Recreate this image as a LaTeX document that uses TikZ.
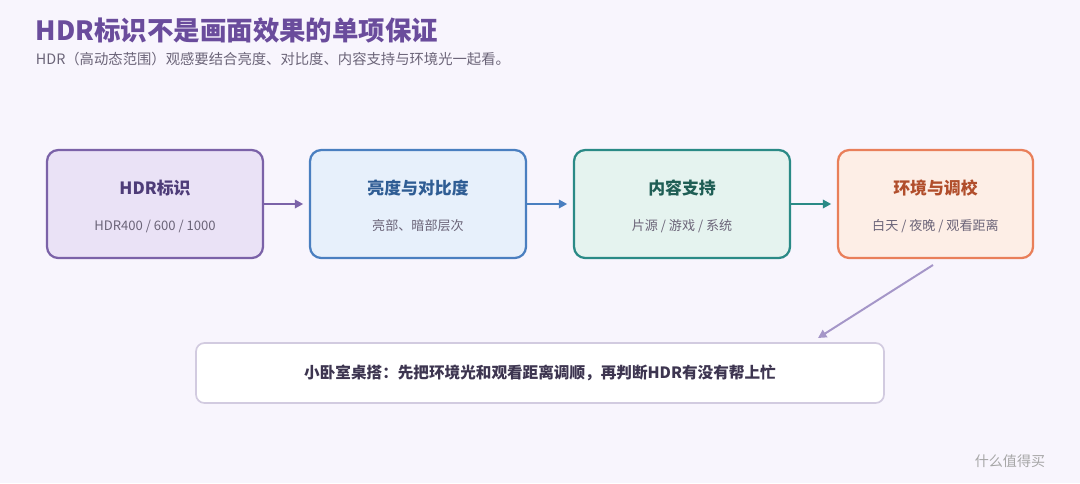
\documentclass[tikz,border=0pt]{standalone}
\usepackage{fontspec}
\setmainfont{Noto Sans CJK SC}
\usetikzlibrary{positioning,arrows.meta}
\definecolor{bgc}{HTML}{F8F5FD}
\definecolor{titlec}{HTML}{6A4C9C}
\definecolor{subc}{HTML}{6B6478}
\definecolor{purpD}{HTML}{7B62A8}\definecolor{purpF}{HTML}{EAE2F6}\definecolor{purpT}{HTML}{4E3C78}
\definecolor{blueD}{HTML}{4A7FC0}\definecolor{blueF}{HTML}{E7F0FB}\definecolor{blueT}{HTML}{2F5D94}
\definecolor{tealD}{HTML}{2A8A86}\definecolor{tealF}{HTML}{E5F3EF}\definecolor{tealT}{HTML}{1F5E55}
\definecolor{orngD}{HTML}{E97F5A}\definecolor{orngF}{HTML}{FDEEE6}\definecolor{orngT}{HTML}{B14E2C}
\definecolor{noteD}{HTML}{D2CBE0}\definecolor{noteT}{HTML}{3D3550}
\definecolor{linkc}{HTML}{A596C8}
\begin{document}
\begin{tikzpicture}[x=0.025cm,y=-0.025cm,
  stage/.style={draw,line width=1.6pt,rounded corners=8pt,minimum height=108*0.025cm},
  head/.style={font=\fontsize{12}{14}\selectfont\bfseries},
  foot/.style={font=\fontsize{9.3}{11}\selectfont,text=subc},
  flow/.style={line width=1.6pt,shorten >=4pt,-{Triangle[length=6pt,width=6pt]}}]

\fill[bgc] (0,0) rectangle (1080,483);
\useasboundingbox (0,0) rectangle (1080,483);

\node[anchor=west,text=titlec,font=\fontsize{18.8}{22}\selectfont\bfseries] (title) at (31,30) {HDR标识不是画面效果的单项保证};
\node[anchor=west,text=subc,font=\fontsize{10.2}{12}\selectfont] (sub) at (31,59) {HDR（高动态范围）观感要结合亮度、对比度、内容支持与环境光一起看。};

% stages
\node[stage,draw=purpD,fill=purpF,minimum width=216*0.025cm] (hdr) at (155,204) {};
\node[stage,draw=blueD,fill=blueF,minimum width=216*0.025cm] (lum) at (418,204) {};
\node[stage,draw=tealD,fill=tealF,minimum width=216*0.025cm] (cont) at (682,204) {};
\node[stage,draw=orngD,fill=orngF,minimum width=195*0.025cm] (env) at (935.5,204) {};

\node[head,text=purpT] at (155,188) {HDR标识};
\node[foot] at (155,226) {HDR400 / 600 / 1000};
\node[head,text=blueT] at (418,188) {亮度与对比度};
\node[foot] at (418,226) {亮部、暗部层次};
\node[head,text=tealT] at (682,188) {内容支持};
\node[foot] at (682,226) {片源 / 游戏 / 系统};
\node[head,text=orngT] at (935.5,188) {环境与调校};
\node[foot] at (935.5,226) {白天 / 夜晚 / 观看距离};

\draw[flow,purpD] (hdr) -- (lum);
\draw[flow,blueD] (lum) -- (cont);
\draw[flow,tealD] (cont) -- (env);

% note
\node[draw=noteD,line width=1.2pt,fill=white,rounded corners=6pt,minimum width=688*0.025cm,minimum height=60*0.025cm,text=noteT,font=\fontsize{11.1}{14}\selectfont\bfseries] (note) at (540,373) {小卧室桌搭：先把环境光和观看距离调顺，再判断HDR有没有帮上忙};
\coordinate (from) at (933,265);
\draw[line width=1.4pt,linkc,-{Triangle[length=6pt,width=6pt]}] (from) -- (818,338);

\node[text=gray!70,font=\fontsize{10}{12}\selectfont] (mark) at (1010,461) {什么值得买};
\end{tikzpicture}
\end{document}
